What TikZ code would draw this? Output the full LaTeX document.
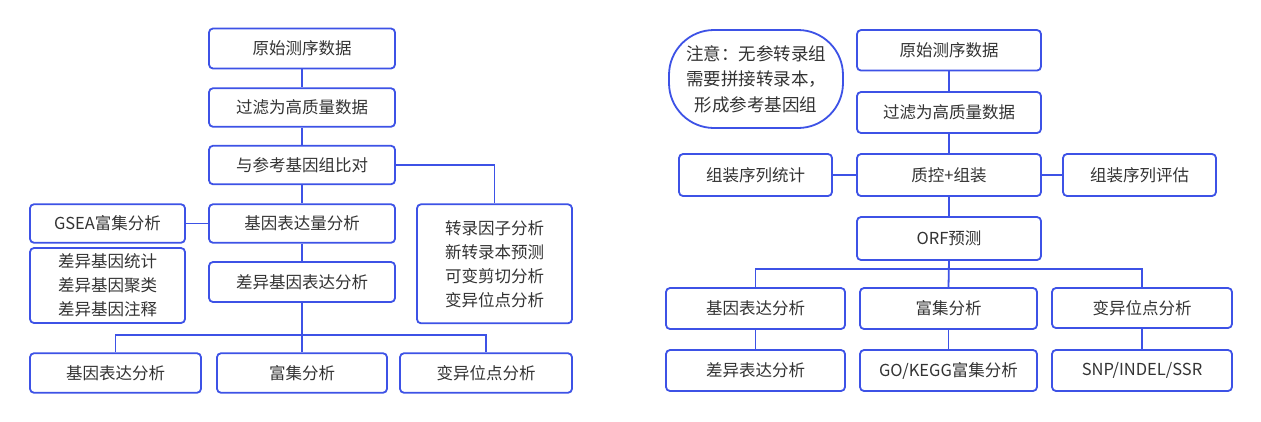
\documentclass[tikz,border=0pt]{standalone}
\usepackage{fontspec}
\setmainfont{Noto Sans CJK SC}
\definecolor{lineblue}{HTML}{3D52E6}
\definecolor{txtgray}{HTML}{333333}
\begin{document}
\begin{tikzpicture}[x=1pt,y=-1pt,
  box/.style={draw=lineblue, line width=1.8pt, rounded corners=4pt, fill=white,
    text=txtgray, align=center, inner sep=0pt,
    font=\fontsize{16.5}{24}\selectfont},
  conn/.style={draw=lineblue, line width=1.8pt},
  notebox/.style={box, rounded corners=45pt, font=\fontsize{17.5}{25.5}\selectfont}]
\useasboundingbox[fill=white] (0,0) rectangle (1261,421);

% ---------- left diagram ----------
\node[box, minimum width=186pt, minimum height=40pt] (l1) at (302,48.5) {原始测序数据};
\node[box, minimum width=186pt, minimum height=38.5pt] (l2) at (302,107.5) {过滤为高质量数据};
\node[box, minimum width=186pt, minimum height=38.5pt] (l3) at (302,165) {与参考基因组比对};
\node[box, minimum width=186pt, minimum height=38.5pt] (l4) at (302,223.5) {基因表达量分析};
\node[box, minimum width=155pt, minimum height=38.5pt] (gsea) at (107.5,223.5) {GSEA富集分析};
\node[box, minimum width=155pt, minimum height=75pt] (deg) at (107.5,285.5) {差异基因统计\\差异基因聚类\\差异基因注释};
\node[box, minimum width=155pt, minimum height=119pt] (tf) at (494.5,263.8) {转录因子分析\\新转录本预测\\可变剪切分析\\变异位点分析};
\node[box, minimum width=186pt, minimum height=40pt] (l5) at (302,282) {差异基因表达分析};
\node[box, minimum width=171pt, minimum height=39.5pt] (la) at (115.5,373) {基因表达分析};
\node[box, minimum width=170pt, minimum height=39.5pt] (lb) at (302,373) {富集分析};
\node[box, minimum width=172pt, minimum height=39.5pt] (lc) at (486,373) {变异位点分析};
\coordinate (lbus) at (302,335);

\draw[conn] (l1) -- (l2);
\draw[conn] (l2) -- (l3);
\draw[conn] (l3) -- (l4);
\draw[conn] (l4) -- (l5);
\draw[conn] (gsea) -- (l4);
\draw[conn] (l3.east) -| (tf.north);
\draw[conn] (l5.south) -- (lb.north);
\draw[conn] (la.north) |- (lbus) -| (lc.north);

% ---------- right diagram ----------
\node[notebox, minimum width=174pt, minimum height=98pt] (note) at (756,79) {注意：无参转录组\\需要拼接转录本，\\形成参考基因组};
\node[box, minimum width=184pt, minimum height=40.5pt] (r1) at (949,50.3) {原始测序数据};
\node[box, minimum width=184pt, minimum height=41pt] (r2) at (949,112.5) {过滤为高质量数据};
\node[box, minimum width=184pt, minimum height=42pt] (r3) at (949,175) {质控+组装};
\node[box, minimum width=153pt, minimum height=42pt] (stat) at (755.5,175) {组装序列统计};
\node[box, minimum width=153pt, minimum height=42pt] (eval) at (1139.5,175) {组装序列评估};
\node[box, minimum width=184pt, minimum height=43pt] (orf) at (949,238.5) {ORF预测};
\node[box, minimum width=179pt, minimum height=41pt] (ra) at (755.5,308.5) {基因表达分析};
\node[box, minimum width=177pt, minimum height=41pt] (rb) at (948.5,308.5) {富集分析};
\node[box, minimum width=180pt, minimum height=40pt] (rc) at (1142,308) {变异位点分析};
\node[box, minimum width=179pt, minimum height=41pt] (ra2) at (755.5,370.5) {差异表达分析};
\node[box, minimum width=177pt, minimum height=41pt] (rb2) at (948.5,370.5) {GO/KEGG富集分析};
\node[box, minimum width=180pt, minimum height=41pt] (rc2) at (1142,370.5) {SNP/INDEL/SSR};
\coordinate (rbus) at (949,269);

\draw[conn] (r1) -- (r2);
\draw[conn] (r2) -- (r3);
\draw[conn] (r3) -- (orf);
\draw[conn] (stat) -- (r3);
\draw[conn] (r3) -- (eval);
\draw[conn] (orf.south) -- (rb.north);
\draw[conn] (ra.north) |- (rbus) -| (rc.north);
\draw[conn] (ra) -- (ra2);
\draw[conn] (rb) -- (rb2);
\draw[conn] (rc) -- (rc2);
\end{tikzpicture}
\end{document}
